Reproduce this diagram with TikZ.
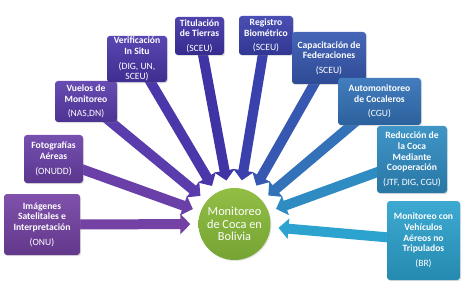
\documentclass[tikz,border=0pt]{standalone}
\usepackage{fontspec}
\setmainfont{Carlito}
\usetikzlibrary{arrows.meta,backgrounds,shadows}

\definecolor{tileA}{HTML}{7442A4}
\definecolor{tileB}{HTML}{6A40A8}
\definecolor{tileC}{HTML}{5A3CAC}
\definecolor{tileD}{HTML}{4B36AA}
\definecolor{tileE}{HTML}{3F33A6}
\definecolor{tileF}{HTML}{3A40AC}
\definecolor{tileG}{HTML}{3658B0}
\definecolor{tileH}{HTML}{3372B8}
\definecolor{tileI}{HTML}{2F8CC2}
\definecolor{tileJ}{HTML}{2CA2CE}
\definecolor{hubtop}{HTML}{92BE45}
\definecolor{hubbot}{HTML}{76A434}

\begin{document}
\begin{tikzpicture}[x=1pt,y=-1pt,>=Stealth,
  tile/.style={rounded corners=3pt,text=white,align=center,inner sep=1pt,
    font=\fontsize{9.6}{10.7}\selectfont,
    top color=#1!92!white,bottom color=#1!85!black,
    drop shadow={opacity=0.25,shadow xshift=1pt,shadow yshift=-1.2pt}},
  hub/.style={circle,minimum size=72pt,inner sep=0pt,text=white,align=center,
    top color=hubtop,bottom color=hubbot,font=\fontsize{12.3}{12.8}\selectfont,
    drop shadow={opacity=0.2,shadow xshift=1pt,shadow yshift=-1.2pt}},
  feed/.style={line width=10pt,draw=#1,
    -{Triangle[length=10pt,width=20pt]},shorten >=8pt}]
\useasboundingbox (0,0) rectangle (463,286);

% central topic
\node[hub] (hub) at (234.5,224) {Monitoreo\\de Coca en\\Bolivia};

% contributing activities, left to right
\node[tile=tileA,minimum width=76pt,minimum height=61pt] (b1) at (42,224.5)
  {\textbf{Imágenes}\\\textbf{Satelitales e}\\\textbf{Interpretación}\\[4pt](ONU)};
\node[tile=tileB,minimum width=59pt,minimum height=48pt] (b2) at (53.5,159)
  {\textbf{Fotografías}\\\textbf{Aéreas}\\[4pt](ONUDD)};
\node[tile=tileC,minimum width=62pt,minimum height=41pt] (b3) at (86,101.5)
  {\textbf{Vuelos de}\\\textbf{Monitoreo}\\[4pt](NAS,DN)};
\node[tile=tileD,minimum width=60pt,minimum height=46pt] (b4) at (137,59)
  {\textbf{Verificación}\\\textbf{In Situ}\\[4pt](DIG, UN,\\SCEU)};
\node[tile=tileE,minimum width=49pt,minimum height=38pt] (b5) at (199.5,36)
  {\textbf{Titulación}\\\textbf{de Tierras}\\[4pt](SCEU)};
\node[tile=tileF,minimum width=54pt,minimum height=39pt] (b6) at (266,35.5)
  {\textbf{Registro}\\\textbf{Biométrico}\\[4pt](SCEU)};
\node[tile=tileG,minimum width=74pt,minimum height=52pt] (b7) at (329,58)
  {\textbf{Capacitación de}\\\textbf{Federaciones}\\[4pt](SCEU)};
\node[tile=tileH,minimum width=83pt,minimum height=47pt] (b8) at (379.5,101.5)
  {\textbf{Automonitoreo}\\\textbf{de Cocaleros}\\[4pt](CGU)};
\node[tile=tileI,minimum width=70pt,minimum height=67pt] (b9) at (412,159.5)
  {\textbf{Reducción de}\\\textbf{la Coca}\\\textbf{Mediante}\\\textbf{Cooperación}\\[4pt](JTF, DIG, CGU)};
\node[tile=tileJ,minimum width=73pt,minimum height=79pt] (b10) at (423.5,240.5)
  {\textbf{Monitoreo con}\\\textbf{Vehículos}\\\textbf{Aéreos no}\\\textbf{Tripulados}\\[4pt](BR)};

% block arrows into the hub
\begin{pgfonlayer}{background}
\foreach \i/\c in {1/tileA,2/tileB,3/tileC,4/tileD,5/tileE,6/tileF,7/tileG,8/tileH,9/tileI,10/tileJ}
  \draw[feed=\c] (b\i.center) -- (hub);
\end{pgfonlayer}
\end{tikzpicture}
\end{document}
